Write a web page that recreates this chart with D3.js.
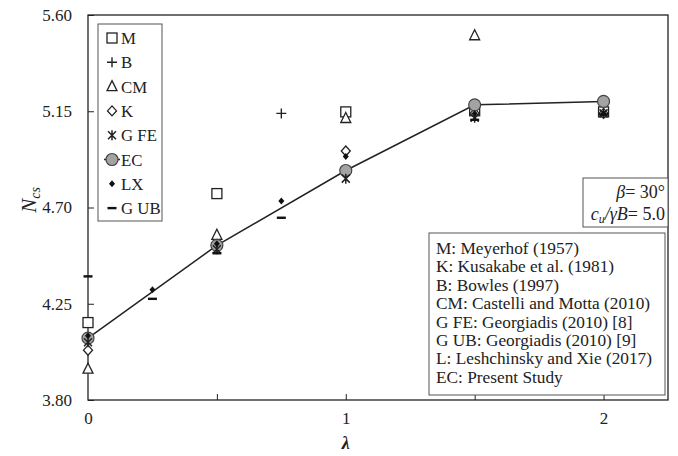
<!DOCTYPE html>
<html>
<head>
<meta charset="utf-8">
<script src="https://cdn.jsdelivr.net/npm/d3@7"></script>
<style>
  html, body { margin: 0; padding: 0; background: #fff; }
  svg text { font-family: "Liberation Serif", "Times New Roman", serif; fill: #222; }
</style>
</head>
<body>
<svg id="chart" width="678" height="456"></svg>
<script>
// λ positions and N_cs values for each method
const lambdaM = [0, 0.5, 1, 1.5, 2];
const valM    = [4.162, 4.765, 5.147, 5.152, 5.147];

const lambdaB = [0.75];
const valB    = [5.14];

const lambdaCM = [0, 0.5, 1, 1.5];
const valCM    = [3.944, 4.57, 5.116, 5.503];

const lambdaK = [0, 0.5, 1, 1.5, 2];
const valK    = [4.033, 4.52, 4.964, 5.14, 5.14];

const lambdaGFE = [0, 0.5, 1, 1.5, 2];
const valGFE    = [4.07, 4.505, 4.835, 5.12, 5.14];

const lambdaEC = [0, 0.5, 1, 1.5, 2];
const valEC    = [4.089, 4.523, 4.873, 5.18, 5.196];

const lambdaLX = [0, 0.25, 0.5, 0.75, 1, 1.5, 2];
const valLX    = [4.10, 4.316, 4.53, 4.73, 4.939, 5.14, 5.14];

const lambdaGUB = [0, 0.25, 0.5, 0.75, 1.5, 2];
const valGUB    = [4.378, 4.273, 4.486, 4.652, 5.11, 5.135];

const yTicks = [3.80, 4.25, 4.70, 5.15, 5.60];
const xTickLabels = [0, 1, 2];
const xTickMarks = [0.5, 1, 1.5, 2];

const legendNames = ["M", "B", "CM", "K", "G FE", "EC", "LX", "G UB"];
const sourceNotes = [
  "M: Meyerhof (1957)",
  "K: Kusakabe et al. (1981)",
  "B: Bowles (1997)",
  "CM: Castelli and Motta (2010)",
  "G FE: Georgiadis (2010) [8]",
  "G UB: Georgiadis (2010) [9]",
  "L: Leshchinsky and Xie (2017)",
  "EC: Present Study"
];

const svg = d3.select("#chart");
const margin = {left: 88, top: 15, right: 10, bottom: 56};
const W = 678, H = 456;
const x = d3.scaleLinear().domain([0, 2.25]).range([margin.left, W - margin.right]);
const y = d3.scaleLinear().domain([3.80, 5.60]).range([H - margin.bottom, margin.top]);

// marker painters
function drawMarker(g, type) {
  switch (type) {
    case "M":
      g.append("rect").attr("x", -5).attr("y", -5).attr("width", 10).attr("height", 10)
        .attr("fill", "#fff").attr("stroke", "#222").attr("stroke-width", 1.3);
      break;
    case "B":
      g.append("path").attr("d", "M-5,0H5M0,-5V5").attr("stroke", "#222").attr("stroke-width", 1.4);
      break;
    case "CM":
      g.append("path").attr("d", "M0,-6L5,4H-5Z").attr("fill", "#fff").attr("stroke", "#222").attr("stroke-width", 1.3);
      break;
    case "K":
      g.append("path").attr("d", "M0,-5L4.5,0L0,5L-4.5,0Z").attr("fill", "#fff").attr("stroke", "#222").attr("stroke-width", 1.3);
      break;
    case "G FE":
      g.append("path").attr("d", "M-4,-4L4,4M-4,4L4,-4M0,-5V5")
        .attr("stroke", "#222").attr("stroke-width", 1.5);
      break;
    case "EC":
      g.append("circle").attr("r", 6).attr("fill", "#a3a3a3").attr("stroke", "#444").attr("stroke-width", 1.2);
      break;
    case "LX":
      g.append("path").attr("d", "M0,-3.5L3,0L0,3.5L-3,0Z").attr("fill", "#111");
      break;
    case "G UB":
      g.append("rect").attr("x", -4.5).attr("y", -1.2).attr("width", 9).attr("height", 2.4).attr("fill", "#111");
      break;
  }
}

// axes
const yAxis = d3.axisLeft(y).tickValues(yTicks).tickSize(-6).tickPadding(16)
  .tickFormat(d3.format(".2f"));
svg.append("g").attr("transform", `translate(${margin.left},0)`).call(yAxis)
  .call(g => g.select(".domain").remove())
  .call(g => g.selectAll(".tick line").attr("stroke", "#222"))
  .call(g => g.selectAll("text").attr("font-size", 17).attr("fill", "#222")
    .attr("font-family", "Liberation Serif"));

const xAxisTicks = d3.axisBottom(x).tickValues(xTickMarks).tickSize(-6).tickFormat("");
svg.append("g").attr("transform", `translate(0,${H - margin.bottom})`).call(xAxisTicks)
  .call(g => g.select(".domain").remove())
  .call(g => g.selectAll(".tick line").attr("stroke", "#222"));

const xAxisLabels = d3.axisBottom(x).tickValues(xTickLabels).tickSize(0).tickPadding(12)
  .tickFormat(d3.format("d"));
svg.append("g").attr("transform", `translate(0,${H - margin.bottom})`).call(xAxisLabels)
  .call(g => g.select(".domain").remove())
  .call(g => g.selectAll("text").attr("font-size", 17).attr("fill", "#222")
    .attr("font-family", "Liberation Serif"));

// plot frame
svg.append("rect").attr("x", x(0)).attr("y", y(5.60))
  .attr("width", x(2.25) - x(0)).attr("height", y(3.80) - y(5.60))
  .attr("fill", "none").attr("stroke", "#222").attr("stroke-width", 1.3);

// axis titles
svg.append("text").attr("x", x(1)).attr("y", 449).attr("text-anchor", "middle")
  .attr("font-size", 18).attr("font-style", "italic").attr("font-weight", "bold").text("λ");
const yt = svg.append("text").attr("transform", "translate(36,200) rotate(-90)")
  .attr("text-anchor", "middle").attr("font-size", 21).attr("font-style", "italic");
yt.append("tspan").text("N");
yt.append("tspan").attr("font-size", 14).attr("dy", 4).text("cs");

// connecting line through the present-study results
const line = d3.line().x((d, i) => x(lambdaEC[i])).y(d => y(d));
svg.append("path").datum(valEC).attr("d", line)
  .attr("fill", "none").attr("stroke", "#222").attr("stroke-width", 1.5);

// series drawn bottom-up so filled markers sit on top
const series = [
  {name: "M", xs: lambdaM, ys: valM},
  {name: "B", xs: lambdaB, ys: valB},
  {name: "CM", xs: lambdaCM, ys: valCM},
  {name: "K", xs: lambdaK, ys: valK},
  {name: "EC", xs: lambdaEC, ys: valEC},
  {name: "G FE", xs: lambdaGFE, ys: valGFE},
  {name: "LX", xs: lambdaLX, ys: valLX},
  {name: "G UB", xs: lambdaGUB, ys: valGUB}
];
series.forEach(s => {
  s.ys.forEach((v, i) => {
    const g = svg.append("g").attr("transform", `translate(${x(s.xs[i])},${y(v)})`);
    drawMarker(g, s.name);
  });
});

// symbol legend
const leg = svg.append("g");
leg.append("rect").attr("x", 98).attr("y", 24).attr("width", 64).attr("height", 197)
  .attr("fill", "#fff").attr("stroke", "#555").attr("stroke-width", 1);
legendNames.forEach((n, i) => {
  const cy = 38 + i * 24.3;
  const g = leg.append("g").attr("transform", `translate(112,${cy})`);
  if (n === "EC") {
    g.append("line").attr("x1", -8).attr("x2", 8).attr("stroke", "#222").attr("stroke-width", 1.5);
  }
  drawMarker(g, n);
  leg.append("text").attr("x", 121).attr("y", cy + 6).attr("font-size", 16.8).text(n);
});

// parameter box
svg.append("rect").attr("x", 583).attr("y", 178).attr("width", 85).attr("height", 49)
  .attr("fill", "#fff").attr("stroke", "#555").attr("stroke-width", 1);
const p1 = svg.append("text").attr("x", 665).attr("y", 198).attr("text-anchor", "end").attr("font-size", 18);
p1.append("tspan").attr("font-style", "italic").text("β");
p1.append("tspan").text("= 30°");
const p2 = svg.append("text").attr("x", 665).attr("y", 220).attr("text-anchor", "end").attr("font-size", 18);
p2.append("tspan").attr("font-style", "italic").text("c");
p2.append("tspan").attr("font-style", "italic").attr("font-size", 12).attr("dy", 3).text("u");
p2.append("tspan").attr("font-style", "italic").attr("dy", -3).text("/γB");
p2.append("tspan").text("= 5.0");

// reference list
svg.append("rect").attr("x", 429).attr("y", 233).attr("width", 236).attr("height", 162)
  .attr("fill", "#fff").attr("stroke", "#555").attr("stroke-width", 1);
sourceNotes.forEach((t, i) => {
  svg.append("text").attr("x", 436).attr("y", 254 + i * 18.4).attr("font-size", 17.3).text(t);
});
</script>
</body>
</html>
